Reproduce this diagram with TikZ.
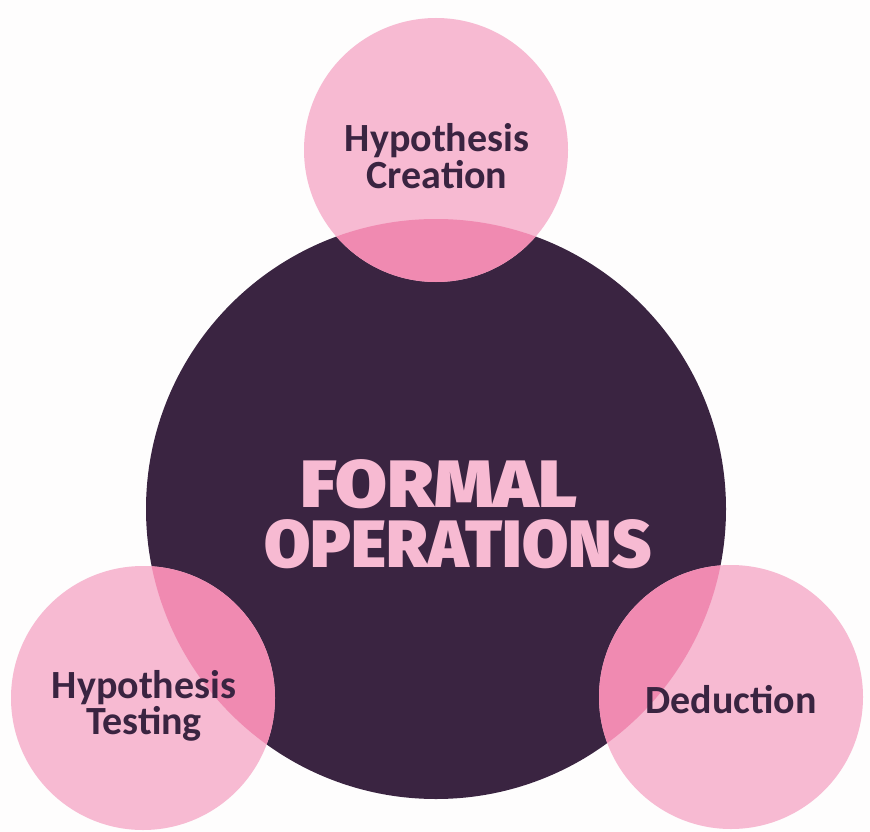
\documentclass[tikz,border=0pt]{standalone}
\usepackage{fontspec}
\setmainfont{Carlito}
\newfontfamily\titlefont{Fira Sans Black}
\definecolor{plum}{HTML}{3A2441}
\definecolor{blush}{HTML}{F7BAD2}
\definecolor{rose}{HTML}{F08AB1}
\definecolor{paper}{HTML}{FEFDFD}
\begin{document}
\begin{tikzpicture}[x=1pt,y=-1pt,
  hub/.style={circle,fill=plum,minimum size=580pt,inner sep=0pt},
  petal/.style={circle,fill=blush,minimum size=264pt,inner sep=0pt},
  lbl/.style={text=plum,font=\fontsize{40}{36}\selectfont\bfseries,anchor=base,
    align=center,inner sep=0pt},
  ttl/.style={text=blush,font=\fontsize{67}{60}\selectfont\titlefont,anchor=base,
    align=center,inner sep=0pt}]
\fill[paper] (0,0) rectangle (870,832);
\useasboundingbox (0,0) rectangle (870,832);
\node[hub] (core) at (436,509) {};
\node[petal] (create) at (436,150) {};
\node[petal] (test) at (143,698) {};
\node[petal] (deduce) at (731,697) {};
% deeper pink where the petals lie over the central disc
\begin{scope}
  \clip (436,509) circle (290pt);
  \fill[rose] (436,150) circle (132pt);
  \fill[rose] (143,698) circle (132pt);
  \fill[rose] (731,697) circle (132pt);
\end{scope}
% the base anchor of a multi-line node sits on its last line
\node[ttl] (title) at (458,567)
  {\hspace*{-38pt}\scalebox{1.12}[1]{FORMAL}\\OPERATIONS};
\node[lbl] (c1) at (437,188) {Hypothesis\\Creation};
\node[lbl,font=\fontsize{40}{34}\selectfont\bfseries] (h1) at (144,734) {Hypothesis\\Testing};
\node[lbl] (d1) at (731,713) {Deduction};
\end{tikzpicture}
\end{document}
